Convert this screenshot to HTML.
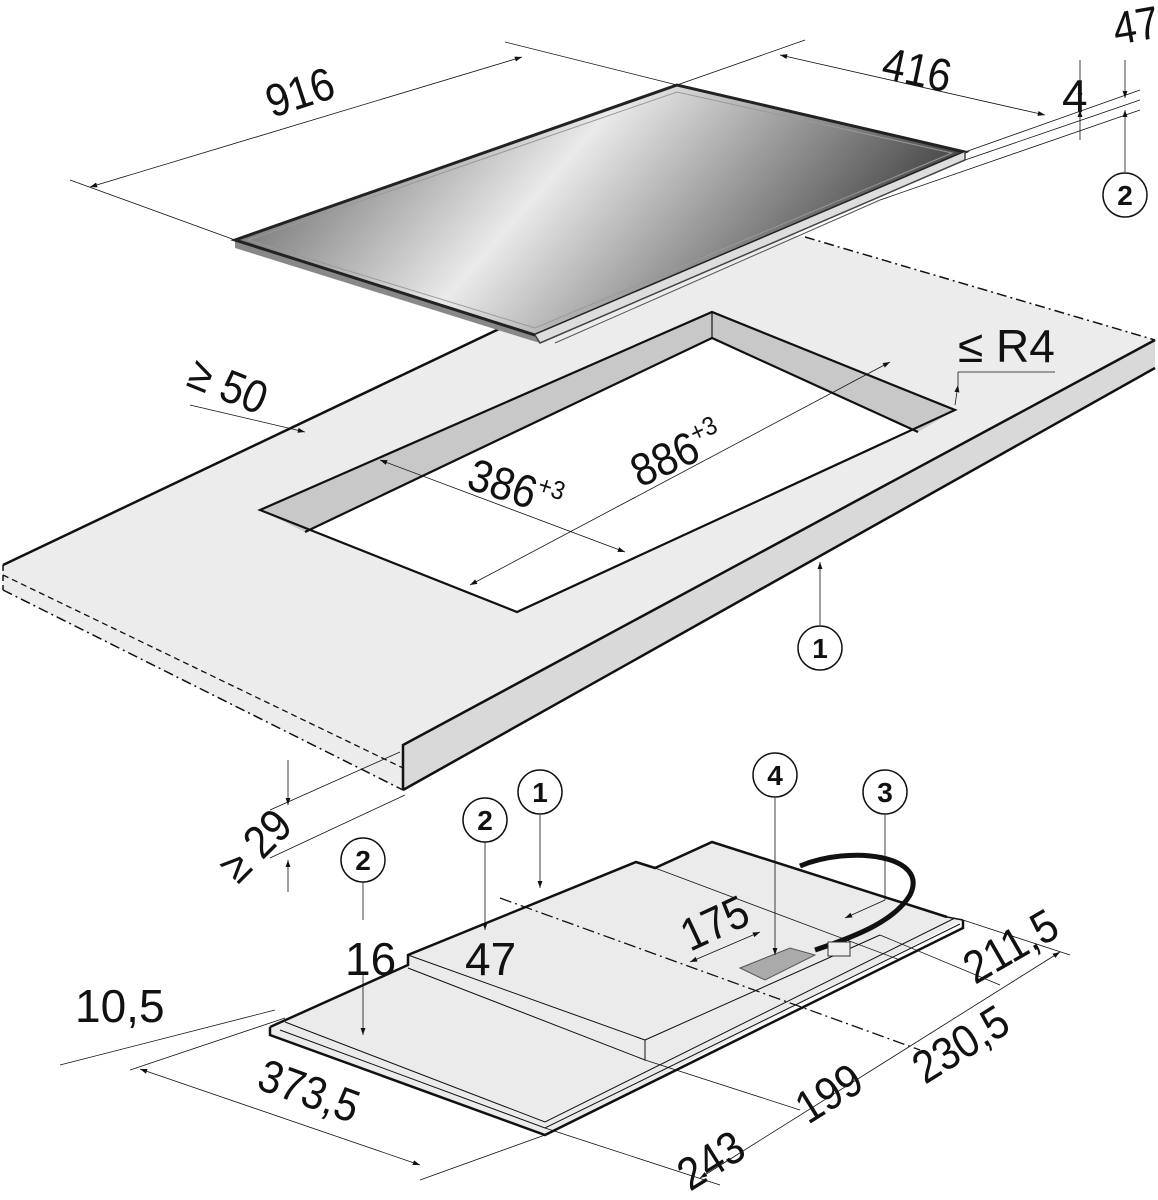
<!DOCTYPE html>
<html><head><meta charset="utf-8"><style>
html,body{margin:0;padding:0;background:#fff}
svg{display:block}
text{font-family:"Liberation Sans",sans-serif;fill:#111}
</style></head><body>
<svg width="1158" height="1200" viewBox="0 0 1158 1200" xmlns="http://www.w3.org/2000/svg">
<defs>
<linearGradient id="gl" x1="0" y1="0" x2="1" y2="0.3">
<stop offset="0" stop-color="#444"/><stop offset="0.5" stop-color="#eaeaea"/><stop offset="1" stop-color="#444"/>
</linearGradient>
<marker id="ar" viewBox="0 0 10 10" refX="10" refY="5" markerWidth="9" markerHeight="9" orient="auto-start-reverse"><path d="M0,1.5L10,5L0,8.5z" fill="#111"/></marker>
</defs>
<g stroke="#111" stroke-width="0.8" fill="none">
<line x1="70" y1="180" x2="235" y2="240"/>
<line x1="505" y1="42" x2="677" y2="85"/>
<line x1="677" y1="85" x2="805" y2="40"/>
<line x1="90" y1="187" x2="522" y2="57" marker-start="url(#ar)" marker-end="url(#ar)"/>
<line x1="780" y1="55" x2="1045" y2="115" marker-start="url(#ar)" marker-end="url(#ar)"/>
<line x1="965" y1="152" x2="1140" y2="90"/>
<line x1="965" y1="160" x2="1140" y2="100"/>
<line x1="880" y1="200" x2="1140" y2="110"/>
<line x1="1080" y1="60" x2="1080" y2="100" marker-end="url(#ar)"/>
<line x1="1080" y1="140" x2="1080" y2="110" marker-end="url(#ar)"/>
<line x1="1125" y1="60" x2="1125" y2="98" marker-end="url(#ar)"/>
<line x1="1125" y1="172" x2="1125" y2="110" marker-end="url(#ar)"/>
</g>
<!-- countertop -->
<polygon points="3,565 731,216 1155,340 403,745" fill="#ececec"/>
<polygon points="403,745 1155,340 1155,368 403,790" fill="#d9d9d9"/>
<polygon points="3,565 403,745 403,790 3,590" fill="#ececec"/>
<g stroke="#111" fill="none">
<polyline points="3,565 560,300" stroke-width="2.5"/>
<polyline points="1155,340 403,745 403,790" stroke-width="2.5"/>
<line x1="403" y1="790" x2="1155" y2="368" stroke-width="2.5"/>
<line x1="805" y1="237" x2="1155" y2="340" stroke-width="1.5" stroke-dasharray="10,4,2,4"/>
<line x1="3" y1="565" x2="3" y2="590" stroke-width="1.5" stroke-dasharray="6,4"/>
<line x1="3" y1="590" x2="403" y2="790" stroke-width="1.5" stroke-dasharray="10,4,2,4"/>
<line x1="3" y1="575" x2="403" y2="768" stroke-width="1.3" stroke-dasharray="6,4"/>
</g>
<!-- cutout -->
<polygon points="260,510 712,312 955,410 517,612" fill="#fff"/>
<polygon points="260,510 712,312 712,338 305,532" fill="#c8c8c8"/>
<polygon points="712,312 955,410 918,432 712,338" fill="#c8c8c8"/>
<g stroke="#111" stroke-width="2.2" fill="none">
<polygon points="260,510 712,312 955,410 517,612"/>
<polyline points="305,532 712,338 918,432"/>
<line x1="712" y1="312" x2="712" y2="338" stroke-width="1.2"/>
</g>
<!-- hob -->
<polygon points="235,240 677,85 965,152 965,160 540,343 530,340 235,248" fill="#888"/>
<polygon points="235,240 677,85 965,152 535,335" fill="url(#gl)" stroke="#222" stroke-width="3"/>
<polygon points="248,240 677,92 952,153 535,328" fill="none" stroke="#999" stroke-width="1"/>
<polyline points="535,335 540,343 965,160 965,152" fill="#ddd" stroke="#444" stroke-width="1.5"/>
<polyline points="555,343 880,200" stroke="#555" stroke-width="1" fill="none"/>
<!-- dims middle -->
<g stroke="#111" stroke-width="0.8" fill="none">
<line x1="955" y1="405" x2="958" y2="385" marker-end="url(#ar)"/>
<line x1="958" y1="372" x2="1055" y2="372"/>
<line x1="958" y1="372" x2="958" y2="385"/>
<line x1="190" y1="405" x2="305" y2="432" marker-end="url(#ar)"/>
<line x1="380" y1="460" x2="625" y2="552" marker-start="url(#ar)" marker-end="url(#ar)"/>
<line x1="470" y1="585" x2="890" y2="362" marker-start="url(#ar)" marker-end="url(#ar)"/>
<line x1="820" y1="625" x2="820" y2="562" marker-end="url(#ar)"/>
<line x1="288" y1="760" x2="288" y2="805" marker-end="url(#ar)"/>
<line x1="288" y1="892" x2="288" y2="860" marker-end="url(#ar)"/>
<line x1="270" y1="810" x2="400" y2="752"/>
<line x1="270" y1="858" x2="405" y2="795"/>
</g>
<!-- bottom unit -->
<polygon points="270,1027 408,965 408,955 636,862 655,868 712,842 947,917 963,920 545,1135 270,1035" fill="#ebebeb"/>
<polygon points="408,955 408,968 645,1060 645,1040" fill="#ebebeb"/>
<g stroke="#111" fill="none">
<polyline points="270,1027 290,1018 408,965 408,955 636,862 655,868 712,842 947,917" stroke-width="2.5"/>
<polyline points="963,920 963,928 545,1135 270,1035 270,1027" stroke-width="2.5"/>
<line x1="947" y1="917" x2="963" y2="920" stroke-width="1.5"/>
<polyline points="408,968 645,1060 645,1040 880,935" stroke-width="1"/>
<polyline points="408,955 645,1040" stroke-width="1"/>
<polyline points="285,1022 545,1122 955,918" stroke-width="1"/>
<polyline points="280,1030 545,1128 960,924" stroke-width="1"/>
<line x1="655" y1="868" x2="900" y2="960" stroke-width="0.8"/>
<line x1="500" y1="898" x2="920" y2="1050" stroke-width="1.3" stroke-dasharray="12,4,2,4"/>
<path d="M800,866 C850,845 930,855 910,895 C895,920 860,935 815,950" stroke-width="5"/>
</g>
<polygon points="740,968 790,948 815,955 765,980" fill="#aaa" stroke="#555" stroke-width="1"/>
<rect x="828" y="942" width="22" height="14" fill="#eee" stroke="#333" stroke-width="1"/>
<g stroke="#111" stroke-width="0.8" fill="none">
<line x1="485" y1="842" x2="485" y2="930" marker-end="url(#ar)"/>
<line x1="540" y1="815" x2="540" y2="888" marker-end="url(#ar)"/>
<line x1="775" y1="798" x2="775" y2="955" marker-end="url(#ar)"/>
<line x1="885" y1="815" x2="885" y2="900"/>
<line x1="885" y1="900" x2="845" y2="918" marker-end="url(#ar)"/>
<line x1="363" y1="882" x2="363" y2="920"/>
<line x1="363" y1="975" x2="363" y2="1035" marker-end="url(#ar)"/>
<line x1="690" y1="962" x2="760" y2="932" marker-start="url(#ar)" marker-end="url(#ar)"/>
<line x1="60" y1="1065" x2="275" y2="1010"/>
<line x1="130" y1="1070" x2="285" y2="1018"/>
<line x1="140" y1="1069" x2="420" y2="1165" marker-start="url(#ar)" marker-end="url(#ar)"/>
<line x1="420" y1="1180" x2="545" y2="1135"/>
<line x1="545" y1="1128" x2="720" y2="1185"/>
<line x1="645" y1="1060" x2="800" y2="1110"/>
<line x1="880" y1="935" x2="1000" y2="985"/>
<line x1="963" y1="920" x2="1070" y2="955"/>
<line x1="700" y1="1178" x2="1060" y2="952" marker-start="url(#ar)" marker-end="url(#ar)"/>
</g>
<!-- circles -->
<g stroke="#111" stroke-width="1.5" fill="#fff">
<circle cx="1125" cy="195" r="22"/><circle cx="820" cy="648" r="22"/>
<circle cx="485" cy="820" r="22"/><circle cx="540" cy="792" r="22"/>
<circle cx="775" cy="775" r="22"/><circle cx="885" cy="792" r="22"/>
<circle cx="363" cy="860" r="22"/>
</g>
<g font-size="28" font-weight="bold" text-anchor="middle">
<text x="1125" y="205">2</text><text x="820" y="658">1</text>
<text x="485" y="830">2</text><text x="540" y="802">1</text>
<text x="775" y="785">4</text><text x="885" y="802">3</text>
<text x="363" y="870">2</text>
</g>
<g font-size="46">
<text transform="translate(272,118) rotate(-18) scale(0.9,1)">916</text>
<text transform="translate(880,78) rotate(12) scale(0.9,1)">416</text>
<text x="1062" y="112">4</text>
<text transform="translate(1116,45) rotate(-10) scale(0.9,1)">47</text>
<text x="958" y="362" transform="scale(1,1)">≤ R4</text>
<text transform="translate(185,385) rotate(22) scale(0.9,1)">≥ 50</text>
<text transform="translate(465,488) rotate(18) scale(0.9,1)">386<tspan font-size="26" dy="-18">+3</tspan></text>
<text transform="translate(640,488) rotate(-25) scale(0.9,1)">886<tspan font-size="26" dy="-18">+3</tspan></text>
<text transform="translate(238,885) rotate(-45) scale(0.9,1)">≥ 29</text>
<text x="345" y="975">16</text>
<text x="465" y="975">47</text>
<text transform="translate(690,952) rotate(-25) scale(0.9,1)">175</text>
<text transform="translate(975,985) rotate(-30) scale(0.9,1)">211,5</text>
<text x="75" y="1022">10,5</text>
<text transform="translate(255,1088) rotate(20) scale(0.9,1)">373,5</text>
<text transform="translate(808,1125) rotate(-32) scale(0.9,1)">199</text>
<text transform="translate(925,1085) rotate(-32) scale(0.9,1)">230,5</text>
<text transform="translate(690,1192) rotate(-32) scale(0.9,1)">243</text>
</g>
</svg>
</body></html>
